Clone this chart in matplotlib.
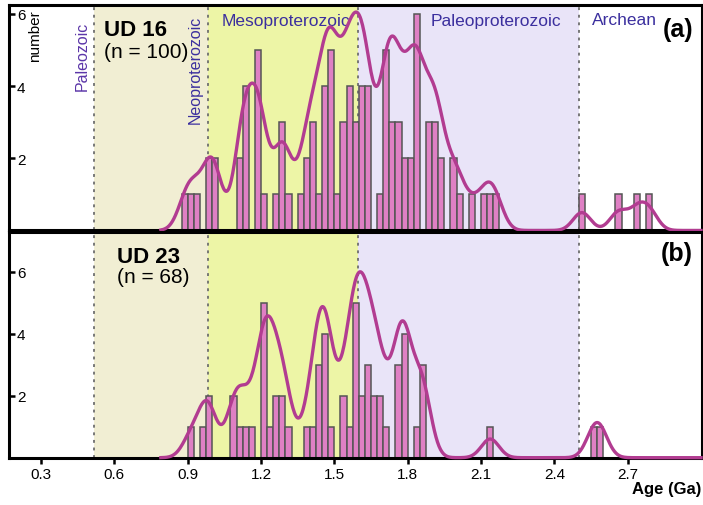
import matplotlib.pyplot as plt
import numpy as np

plt.rcParams['font.family'] = ['Liberation Sans', 'DejaVu Sans']

# 25 Ma bins: left edge (Ga) and number of grains
ud16_age = [0.875, 0.900, 0.925, 0.975, 1.000, 1.100, 1.125, 1.175, 1.200,
            1.250, 1.275, 1.300, 1.350, 1.375, 1.400, 1.425, 1.450, 1.475,
            1.500, 1.525, 1.550, 1.575, 1.600, 1.625, 1.675, 1.700, 1.725,
            1.750, 1.775, 1.800, 1.825, 1.875, 1.900, 1.925, 1.975, 2.000,
            2.050, 2.100, 2.125, 2.150, 2.500, 2.650, 2.725, 2.775]
ud16_n = [1, 1, 1, 2, 2, 2, 4, 5, 1,
          1, 3, 1, 1, 2, 3, 1, 4, 5,
          1, 3, 4, 3, 4, 4, 1, 5, 3,
          3, 2, 2, 6, 3, 3, 2, 2, 1,
          1, 1, 1, 1, 1, 1, 1, 1]

ud23_age = [0.900, 0.950, 0.975, 1.075, 1.100, 1.125, 1.150, 1.200, 1.225,
            1.250, 1.275, 1.300, 1.375, 1.400, 1.425, 1.450, 1.475, 1.525,
            1.550, 1.575, 1.600, 1.625, 1.650, 1.675, 1.700, 1.750, 1.775,
            1.825, 1.850, 2.125, 2.550, 2.575]
ud23_n = [1, 1, 2, 2, 1, 1, 1, 5, 1,
          2, 2, 1, 1, 1, 3, 4, 1, 2,
          1, 5, 2, 3, 2, 2, 1, 3, 4,
          1, 3, 1, 1, 1]

# geologic eras (Ga)
eras = ['Paleozoic', 'Neoproterozoic', 'Mesoproterozoic', 'Paleoproterozoic', 'Archean']
era_bounds = [0.515, 0.985, 1.595, 2.5]
era_colors = ['white', '#f1eed3', '#edf5a6', '#e9e4f8', 'white']

BIN = 0.025
BAR_COL = '#df80c4'
LINE_COL = '#b23c91'
ERA_TXT = '#3b2f9e'
XMIN, XMAX = 0.1676, 3.002


def kde(ages, counts, grid, bw=0.036):
    c = np.array(ages) + BIN / 2
    d = grid[:, None] - c[None, :]
    return (np.array(counts) * np.exp(-0.5 * (d / bw) ** 2)).sum(axis=1)


def panel(ax, ages, counts, ymax, peak):
    edges = [XMIN] + era_bounds + [XMAX]
    for i in range(len(eras)):
        ax.axvspan(edges[i], edges[i + 1], color=era_colors[i], lw=0, zorder=0)
    for b in era_bounds:
        ax.axvline(b, color='#6e6e6e', lw=1.3, ls=(0, (1.6, 2.6)), zorder=1)
    ax.bar(ages, counts, width=BIN, align='edge', color=BAR_COL,
           edgecolor='#555555', lw=1.1, zorder=2)
    grid = np.linspace(0.79, 3.0, 700)
    dens = kde(ages, counts, grid)
    ax.plot(grid, dens / dens.max() * peak, color=LINE_COL, lw=2.4,
            zorder=5, clip_on=False)
    ax.set_xlim(XMIN, XMAX)
    ax.set_ylim(0, ymax)
    ax.set_yticks([2, 4, 6])
    ax.tick_params(axis='y', direction='in', length=4, width=1.8, pad=-6,
                   labelsize=11)
    for lab in ax.get_yticklabels():
        lab.set_horizontalalignment('left')
    for s in ax.spines.values():
        s.set_linewidth(2.2)


fig = plt.figure(figsize=(7.03, 5.06), dpi=100)
ax1 = fig.add_axes([0.01238, 0.5425, 0.9855, 0.4466])
ax2 = fig.add_axes([0.01238, 0.0935, 0.9855, 0.4470])

panel(ax1, ud16_age, ud16_n, 6.26, 6.05)
panel(ax2, ud23_age, ud23_n, 7.3, 6.0)

ax1.set_xticks([])
xt = [0.3, 0.6, 0.9, 1.2, 1.5, 1.8, 2.1, 2.4, 2.7]
ax2.set_xticks(xt)
ax2.set_xticklabels([f'{v:.1f}' for v in xt])
ax2.tick_params(axis='x', direction='out', length=4, width=1.8, pad=3,
                labelsize=11)

# era labels
ax1.text(0.1058, 0.62, 'Paleozoic', rotation=90, ha='center', va='bottom',
         fontsize=11.5, color='#5b35a8', transform=ax1.transAxes)
ax1.text(0.2689, 0.4757, 'Neoproterozoic', rotation=90, ha='center', va='bottom',
         fontsize=11.5, color=ERA_TXT, transform=ax1.transAxes)
ax1.text(0.3079, 0.909, 'Mesoproterozoic', ha='left', va='baseline',
         fontsize=12.5, color=ERA_TXT, transform=ax1.transAxes)
ax1.text(0.6096, 0.909, 'Paleoproterozoic', ha='left', va='baseline',
         fontsize=12.5, color=ERA_TXT, transform=ax1.transAxes)
ax1.text(0.842, 0.913, 'Archean', ha='left', va='baseline',
         fontsize=12.5, color=ERA_TXT, transform=ax1.transAxes)

ax1.text(0.038, 0.98, 'number', rotation=90, ha='center', va='top',
         fontsize=11, transform=ax1.transAxes)

# sample labels
ax1.text(0.1377, 0.865, 'UD 16', fontsize=16, fontweight='bold', ha='left',
         va='baseline', transform=ax1.transAxes)
ax1.text(0.1377, 0.7677, '(n = 100)', fontsize=15, ha='left', va='baseline',
         transform=ax1.transAxes)
ax1.text(0.9878, 0.8606, '(a)', fontsize=18, fontweight='bold', ha='right',
         va='baseline', transform=ax1.transAxes)

ax2.text(0.1563, 0.865, 'UD 23', fontsize=16, fontweight='bold', ha='left',
         va='baseline', transform=ax2.transAxes)
ax2.text(0.1563, 0.7767, '(n = 68)', fontsize=15, ha='left', va='baseline',
         transform=ax2.transAxes)
ax2.text(0.9878, 0.874, '(b)', fontsize=18, fontweight='bold', ha='right',
         va='baseline', transform=ax2.transAxes)

fig.text(701 / 703, 1 - 490 / 506, 'Age (Ga)', ha='right', va='center',
         fontsize=12, fontweight='bold')

fig.savefig('out.png', dpi=100)
